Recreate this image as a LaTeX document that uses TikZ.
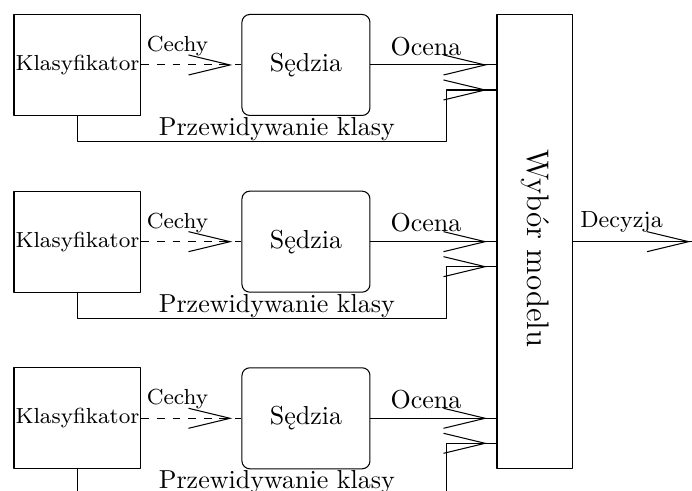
\documentclass[tikz,border=0pt]{standalone}
\usepackage{fontspec}
\usetikzlibrary{arrows.meta,decorations.markings}
\tikzset{
  maly/.style={font=\fontsize{8.4pt}{10pt}\selectfont},
  blok/.style={draw, minimum width=1.716cm, minimum height=1.365cm, inner sep=0pt},
  sedzia/.style={blok, rounded corners=3pt, minimum width=1.73cm},
  grot/.style={postaction={decorate}, decoration={markings, mark=at position -3.5pt with {\arrow{>}}}},
}
\begin{document}
\begin{tikzpicture}[>={Straight Barb[length=16pt,width=7.7pt]}, line join=round]
\useasboundingbox (0,0) rectangle (9.352,-6.635);
% wybor modelu
\node[blok, minimum width=1.027cm, minimum height=6.142cm] (wm) at (7.230,-3.266) {};
\node[rotate=-90, font=\large] at ([yshift=-0.09cm]wm.center) {Wybór modelu};
\coordinate (d) at (9.46,-3.266);
\draw[grot] (wm.east) -- node[above, pos=0.38, font=\small]{Decyzja} (d);
% pierwszy klasyfikator
\node[blok, maly] (k1) at (1.047,-0.878) {Klasyfikator};
\node[sedzia] (s1) at (4.135,-0.878) {Sędzia};
\coordinate (x1) at (6.037,-1.216);
\draw[dashed, grot] (k1) -- node[above, pos=0.36, maly]{Cechy} (s1);
\draw[grot] (s1) -- node[above, pos=0.44]{Ocena} (s1 -| wm.west);
\draw[grot] (k1.south) -- ++(0,-0.345) -| node[above, inner sep=0pt, pos=0.27]{Przewidywanie klasy} (x1) -- (x1 -| wm.west);
% drugi klasyfikator
\node[blok, maly] (k2) at (1.047,-3.266) {Klasyfikator};
\node[sedzia] (s2) at (4.135,-3.266) {Sędzia};
\coordinate (x2) at (6.037,-3.604);
\draw[dashed, grot] (k2) -- node[above, pos=0.36, maly]{Cechy} (s2);
\draw[grot] (s2) -- node[above, pos=0.44]{Ocena} (s2 -| wm.west);
\draw[grot] (k2.south) -- ++(0,-0.345) -| node[above, inner sep=0pt, pos=0.27]{Przewidywanie klasy} (x2) -- (x2 -| wm.west);
% trzeci klasyfikator
\node[blok, maly] (k3) at (1.047,-5.653) {Klasyfikator};
\node[sedzia] (s3) at (4.135,-5.653) {Sędzia};
\coordinate (x3) at (6.037,-5.991);
\draw[dashed, grot] (k3) -- node[above, pos=0.36, maly]{Cechy} (s3);
\draw[grot] (s3) -- node[above, pos=0.44]{Ocena} (s3 -| wm.west);
\draw[grot] (k3.south) -- ++(0,-0.345) -| node[above, inner sep=0pt, pos=0.27]{Przewidywanie klasy} (x3) -- (x3 -| wm.west);
\end{tikzpicture}
\end{document}
